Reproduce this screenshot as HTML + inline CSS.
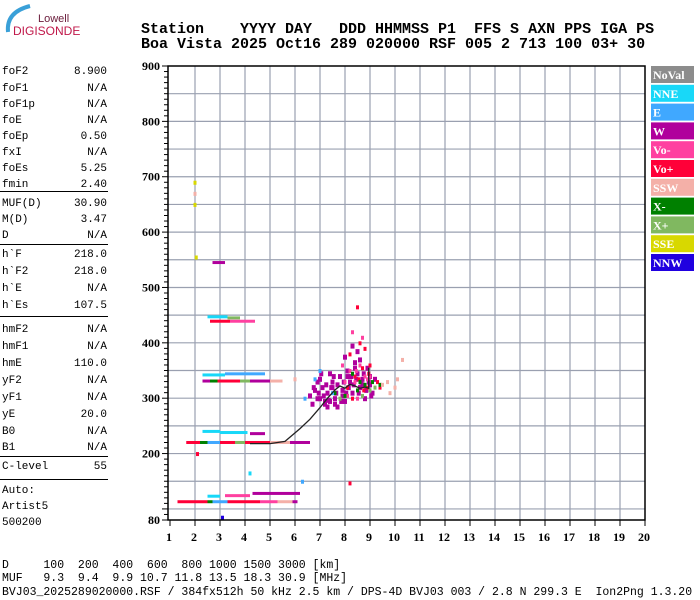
<!DOCTYPE html>
<html><head><meta charset="utf-8"><style>
body{margin:0;width:700px;height:600px;background:#fff;position:relative;overflow:hidden;font-family:"Liberation Mono",monospace}
.p{position:absolute;font-size:11px;color:#000;white-space:pre;line-height:12px}
.v{position:absolute;font-size:11px;right:593px;text-align:right;white-space:pre;line-height:12px}
.hr{position:absolute;left:0;width:108px;height:0;border-top:1.5px solid #000}
.hd{position:absolute;left:141px;font-size:15px;font-weight:bold;white-space:pre;line-height:15px}
.ft{position:absolute;left:2px;font-size:11.5px;white-space:pre;line-height:12px}
</style></head><body>
<svg style="position:absolute;left:0;top:0" width="90" height="40">
<path d="M8 32 Q6 12 30 6" stroke="#3aa0d8" stroke-width="4" fill="none"/>
<text x="38" y="22" font-family="Liberation Sans,sans-serif" font-size="11" fill="#6a1b3a">Lowell</text>
<text x="13" y="35" font-family="Liberation Sans,sans-serif" font-size="12" fill="#c0184a">DIGISONDE</text>
</svg>
<div class="hd" style="top:22px">Station    YYYY DAY   DDD HHMMSS P1  FFS S AXN PPS IGA PS</div>
<div class="hd" style="top:37px">Boa Vista 2025 Oct16 289 020000 RSF 005 2 713 100 03+ 30</div>
<div id="left"></div>
<div class="ft" style="top:560px">D     100  200  400  600  800 1000 1500 3000 [km]</div>
<div class="ft" style="top:573px">MUF   9.3  9.4  9.9 10.7 11.8 13.5 18.3 30.9 [MHz]</div>
<div class="ft" style="top:587px">BVJ03_2025289020000.RSF / 384fx512h 50 kHz 2.5 km / DPS-4D BVJ03 003 / 2.8 N 299.3 E  Ion2Png 1.3.20</div>
<svg id="ch" style="position:absolute;left:0;top:0" width="700" height="600"></svg>
<script>
const params=[["foF2","8.900",66],["foF1","N/A",83],["foF1p","N/A",99],["foE","N/A",115],["foEp","0.50",131],["fxI","N/A",147],["foEs","5.25",163],["fmin","2.40",179],
["MUF(D)","30.90",198],["M(D)","3.47",214],["D","N/A",230],
["h`F","218.0",249],["h`F2","218.0",266],["h`E","N/A",283],["h`Es","107.5",300],
["hmF2","N/A",324],["hmF1","N/A",341],["hmE","110.0",358],["yF2","N/A",375],["yF1","N/A",392],["yE","20.0",409],["B0","N/A",426],["B1","N/A",442],
["C-level","55",461]];
const lines=[191,244,316,456,479];
const L=document.getElementById('left');
params.forEach(p=>{
 const a=document.createElement('div');a.className='p';a.style.left='2px';a.style.top=p[2]+'px';a.textContent=p[0];
 
 
 L.appendChild(a);
 const b=document.createElement('div');b.className='v';b.style.top=p[2]+'px';b.textContent=p[1];
 
 
 L.appendChild(b);
});
[["Auto:",485],["Artist5",501],["500200",517]].forEach(p=>{
 const a=document.createElement('div');a.className='p';a.style.left='2px';a.style.top=p[1]+'px';a.textContent=p[0];
 
 
 L.appendChild(a);
});
lines.forEach(y=>{const d=document.createElement('div');d.className='hr';d.style.top=y+'px';
 
 
 L.appendChild(d);});

const xTicks=[1,2,3,4,5,6,7,8,9,10,11,12,13,14,15,16,17,18,19,20];
const yTicks=[900,800,700,600,500,400,300,200,80];
const legendNames=["NoVal","NNE","E","W","Vo-","Vo+","SSW","X-","X+","SSE","NNW"];
const legendColors=["#8c8c8c","#18d8f8","#40a8ff","#b0009c","#ff40a0","#ff0038","#f4b0a8","#008000","#80b860","#d8d800","#2000e0"];
const C={NNE:"#18d8f8",E:"#40a8ff",W:"#b0009c",VM:"#ff40a0",VP:"#ff0038",SSW:"#f4b0a8",XM:"#008000",XP:"#80b860",SSE:"#d8d800",NNW:"#2000e0"};
const bandF0=[1.3,2.2,2.5,2.7,3.3,4.6,5.3,5.9, 2.5,3.2,4.3, 1.65,2.2,2.5,3.0,3.6,4.0,5.0,5.8, 2.3,3.0,4.2, 2.3,2.6,2.9,3.8,4.2,5.0, 2.3,3.2, 2.6,3.4, 2.5,3.3, 2.7];
const bandF1=[2.2,2.5,2.7,3.3,4.6,5.3,5.9,6.1, 3.0,4.2,6.2, 2.2,2.5,3.0,3.6,4.0,5.0,5.8,6.6, 3.0,4.1,4.8, 2.6,2.9,3.8,4.2,5.0,5.5, 3.2,4.8, 3.4,4.4, 3.3,3.8, 3.2];
const bandH=[113,113,113,113,113,113,113,113, 123,124,128, 220,220,220,220,220,220,220,220, 240,238,236, 331,331,331,331,331,331, 342,344, 439,439, 447,445, 545];
const bandC=["VP","VP","XM","E","VP","VM","SSW","W", "NNE","VM","W", "VP","XM","E","VP","XP","VP","SSW","W", "NNE","NNE","W", "W","XM","VP","XP","W","SSW", "NNE","E", "VP","VM", "NNE","XP", "W"];
const ptF=[7.0,7.1,7.3,7.5,7.2,7.6,7.8,7.9,8.0,8.1,8.2,8.3,8.4,8.5,8.6,8.7,8.8,8.9,9.0,9.1,7.4,7.7,8.0,8.5,6.9,7.05,8.3,8.6,9.2,7.35,
 6.6,6.7,6.8,6.9,7.0,7.15,7.25,7.4,7.45,7.55,7.65,7.7,7.85,7.95,8.05,8.15,8.25,8.35,8.45,8.55,8.65,8.75,8.85,8.95,9.05,6.75,7.2,7.5,7.9,8.1,8.4,8.7,9.0,7.3,6.95,7.6,
 8.0,8.2,8.4,8.6,8.8,9.0,8.5,8.7,7.9,8.3,8.1,8.9,8.45,
 8.1,8.4,8.7,8.9,9.0,9.3,8.2,8.6,8.5,8.8,9.4,8.3,8.55,8.75,8.95,
 8.0,8.5,8.8,9.1,9.4,7.6,8.3,8.6, 8.7,9.2,7.8,9.0, 7.0,6.8,6.4,7.5, 9.5,9.7,10.0,10.1,10.3,9.8,6.0,
 2.0,2.0,2.0,2.05,2.1,6.3,8.2,4.2,3.1];
const ptH=[300,320,310,330,290,300,340,315,295,350,330,310,365,345,320,335,300,355,325,310,345,285,375,385,330,345,395,370,335,297,
 305,290,315,300,335,305,325,295,320,340,310,325,295,330,310,320,340,325,335,310,330,345,315,330,305,320,295,320,305,340,355,325,340,285,310,290,
 330,350,330,360,340,340,300,410,360,420,305,335,350,
 320,340,355,320,360,330,380,400,465,390,320,300,335,315,345,
 305,315,325,330,325,310,345,330, 305,320,300,315, 350,335,300,310, 325,330,320,335,370,310,335,
 690,670,650,555,200,150,147,165,85];
const ptC=["W","W","W","W","W","W","W","W","W","W","W","W","W","W","W","W","W","W","W","W","W","W","W","W","W","W","W","W","W","W",
 "W","W","W","W","W","W","W","W","W","W","W","W","W","W","W","W","W","W","W","W","W","W","W","W","W","W","W","W","W","W","W","W","W","W","W","W",
 "VM","VM","VM","VM","VM","VM","VM","VM","VM","VM","VM","VM","VM",
 "VP","VP","VP","VP","VP","VP","VP","VP","VP","VP","VP","VP","VP","VP","VP",
 "XM","XM","XM","XM","XM","XM","XM","XM","XP","XP","XP","XP","E","E","E","E",
 "SSW","SSW","SSW","SSW","SSW","SSW","SSW","SSE","SSW","SSE","SSE","VP","E","VP","NNE","NNW"];
const trF=[4.2,5.0,5.6,6.2,6.6,7.0,7.3,7.6,7.8,8.0,8.2,8.4,8.6,8.8,8.95,8.95];
const trH=[218,218,222,245,262,283,300,315,322,318,325,322,318,320,318,355];

const X0=168,X1=645,Y0=66,Y1=520;
const xs=f=>170+(f-1)*25;
const ys=h=>Y0+(900-h)*(Y1-Y0)/820;
const S=document.getElementById('ch');const NS='http://www.w3.org/2000/svg';
function el(t,a){const e=document.createElementNS(NS,t);for(const k in a)e.setAttribute(k,a[k]);S.appendChild(e);return e;}
for(let h=100;h<900;h+=50){const g=el('line',{x1:X0,x2:X1,y1:ys(h),y2:ys(h),stroke:'#9aa0b0','stroke-width':1.2});
 
 }
for(let f=2;f<20;f++){const g=el('line',{x1:xs(f),x2:xs(f),y1:Y0,y2:Y1,stroke:'#9aa0b0','stroke-width':1.2});
 
 }
bandF0.forEach((f,i)=>{const r=el('rect',{x:xs(f),y:ys(bandH[i])-1.5,width:xs(bandF1[i])-xs(f),height:3,fill:C[bandC[i]]});
 
 });
ptF.forEach((f,i)=>{const big=ptC[i]==="W"?4:3;const r=el('rect',{x:xs(f)-big/2,y:ys(ptH[i])-big/2,width:big,height:big+1,fill:C[ptC[i]]});
 
 });
const tp=el('polyline',{points:trF.map((f,i)=>xs(f)+','+ys(trH[i])).join(' '),fill:'none',stroke:'#222','stroke-width':1.3});


const fr=el('rect',{x:X0,y:Y0,width:X1-X0,height:Y1-Y0,fill:'none',stroke:'#000','stroke-width':1.5});


for(let h=80;h<=900;h+=10){const t=el('line',{x1:X0-(h%100===0||h===80?6:4),x2:X0,y1:ys(h),y2:ys(h),stroke:'#000','stroke-width':1});
 
 }
yTicks.forEach(h=>{const t=el('text',{x:X0-8,y:ys(h)+4,'text-anchor':'end','font-family':'Liberation Serif,serif','font-weight':'bold','font-size':12});t.textContent=h;
 
 });
xTicks.forEach(f=>{const t=el('line',{x1:xs(f),x2:xs(f),y1:Y1,y2:Y1+6,stroke:'#000'});
 
 
 const l=el('text',{x:xs(f)-1,y:541,'text-anchor':'middle','font-family':'Liberation Serif,serif','font-weight':'bold','font-size':12});l.textContent=f;
 
 });
legendNames.forEach((n,i)=>{const y=66+i*18.8;
 const r=el('rect',{x:651,y:y,width:43,height:17,fill:legendColors[i]});
 
 
 const t=el('text',{x:653,y:y+13,'font-family':'Liberation Serif,serif','font-weight':'bold','font-size':12,fill:'#fff'});t.textContent=n;
 
 });
</script>
</body></html>
